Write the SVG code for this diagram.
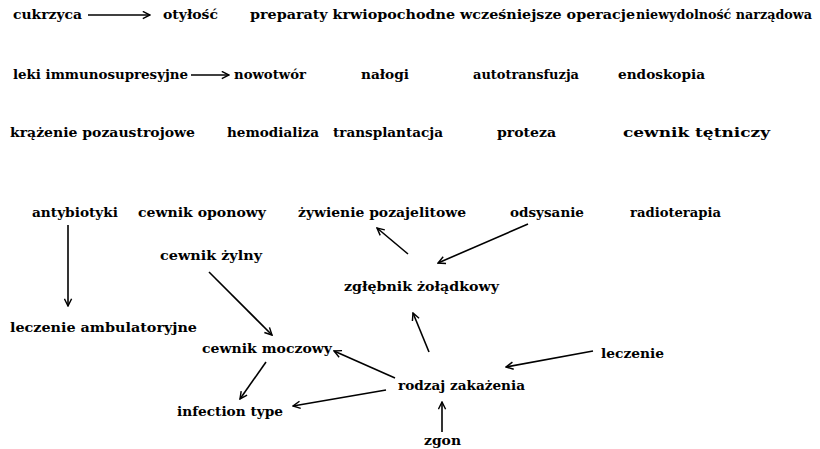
<svg xmlns="http://www.w3.org/2000/svg" width="820" height="449" viewBox="0 0 820 449">
<style>
text{font-family:"DejaVu Serif","Liberation Serif",serif;font-weight:bold;font-size:13.5px;fill:#000}
.c line{stroke:#000;stroke-width:1.6;marker-end:url(#ah)}
</style>
<defs>
<marker id="ah" viewBox="0 0 10 10" refX="9" refY="5" markerWidth="9" markerHeight="9" markerUnits="userSpaceOnUse" orient="auto">
<path d="M1,1 L9,5 L1,9" fill="none" stroke="#000" stroke-width="1.6"/>
</marker>
</defs>
<rect width="820" height="449" fill="#fff"/>
<g id="n-cukrzyca"><text x="13" y="19" textLength="69" lengthAdjust="spacingAndGlyphs">cukrzyca</text></g>
<g id="n-otylosc"><text x="163" y="19" textLength="55" lengthAdjust="spacingAndGlyphs">otyłość</text></g>
<g id="n-preparaty"><text x="250" y="19" textLength="205" lengthAdjust="spacingAndGlyphs">preparaty krwiopochodne</text></g>
<g id="n-operacje"><text x="460" y="19" textLength="175" lengthAdjust="spacingAndGlyphs">wcześniejsze operacje</text></g>
<g id="n-niewydolnosc"><text x="636" y="19" style="font-size:12px" textLength="176" lengthAdjust="spacingAndGlyphs">niewydolność narządowa</text></g>
<g id="n-leki"><text x="13" y="79" textLength="175" lengthAdjust="spacingAndGlyphs">leki immunosupresyjne</text></g>
<g id="n-nowotwor"><text x="234" y="79" textLength="72" lengthAdjust="spacingAndGlyphs">nowotwór</text></g>
<g id="n-nalogi"><text x="361" y="79" textLength="48" lengthAdjust="spacingAndGlyphs">nałogi</text></g>
<g id="n-autotransfuzja"><text x="473" y="79" textLength="106" lengthAdjust="spacingAndGlyphs">autotransfuzja</text></g>
<g id="n-endoskopia"><text x="618" y="79" textLength="87" lengthAdjust="spacingAndGlyphs">endoskopia</text></g>
<g id="n-krazenie"><text x="10" y="137" textLength="185" lengthAdjust="spacingAndGlyphs">krążenie pozaustrojowe</text></g>
<g id="n-hemodializa"><text x="227" y="137" textLength="92" lengthAdjust="spacingAndGlyphs">hemodializa</text></g>
<g id="n-transplantacja"><text x="333" y="137" textLength="110" lengthAdjust="spacingAndGlyphs">transplantacja</text></g>
<g id="n-proteza"><text x="497" y="137" textLength="59" lengthAdjust="spacingAndGlyphs">proteza</text></g>
<g id="n-tetniczy"><text x="623" y="137" textLength="147" lengthAdjust="spacingAndGlyphs">cewnik tętniczy</text></g>
<g id="n-antybiotyki"><text x="32" y="217" textLength="86" lengthAdjust="spacingAndGlyphs">antybiotyki</text></g>
<g id="n-oponowy"><text x="138" y="217" textLength="128" lengthAdjust="spacingAndGlyphs">cewnik oponowy</text></g>
<g id="n-zywienie"><text x="298" y="217" textLength="168" lengthAdjust="spacingAndGlyphs">żywienie pozajelitowe</text></g>
<g id="n-odsysanie"><text x="510" y="217" textLength="74" lengthAdjust="spacingAndGlyphs">odsysanie</text></g>
<g id="n-radioterapia"><text x="630" y="217" textLength="91" lengthAdjust="spacingAndGlyphs">radioterapia</text></g>
<g id="n-zylny"><text x="160" y="260" textLength="102" lengthAdjust="spacingAndGlyphs">cewnik żylny</text></g>
<g id="n-zglebnik"><text x="344" y="291" textLength="155" lengthAdjust="spacingAndGlyphs">zgłębnik żołądkowy</text></g>
<g id="n-ambulatoryjne"><text x="10" y="332" textLength="187" lengthAdjust="spacingAndGlyphs">leczenie ambulatoryjne</text></g>
<g id="n-moczowy"><text x="202" y="353" textLength="130" lengthAdjust="spacingAndGlyphs">cewnik moczowy</text></g>
<g id="n-leczenie"><text x="601" y="358" textLength="63" lengthAdjust="spacingAndGlyphs">leczenie</text></g>
<g id="n-rodzaj"><text x="398" y="390" textLength="127" lengthAdjust="spacingAndGlyphs">rodzaj zakażenia</text></g>
<g id="n-infection"><text x="177" y="416" textLength="106" lengthAdjust="spacingAndGlyphs">infection type</text></g>
<g id="n-zgon"><text x="424" y="445" textLength="37" lengthAdjust="spacingAndGlyphs">zgon</text></g>
<g id="connectors" class="c">
<line x1="88" y1="15" x2="150" y2="15"/>
<line x1="191" y1="75" x2="229" y2="75"/>
<line x1="68" y1="225" x2="68" y2="306"/>
<line x1="209" y1="272" x2="272" y2="335"/>
<line x1="528" y1="224" x2="438" y2="263"/>
<line x1="408" y1="254" x2="377" y2="228"/>
<line x1="429" y1="352" x2="413" y2="313"/>
<line x1="593" y1="351" x2="506" y2="367"/>
<line x1="395" y1="378" x2="334" y2="351"/>
<line x1="386" y1="390" x2="293" y2="406"/>
<line x1="266" y1="362" x2="240" y2="399"/>
<line x1="442" y1="432" x2="442" y2="402"/>
</g>
</svg>
